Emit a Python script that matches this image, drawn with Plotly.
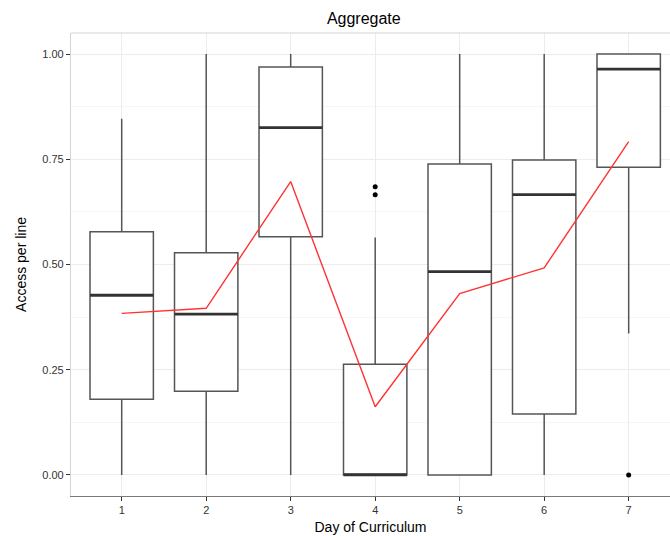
import plotly.graph_objects as go

# Day of curriculum and per-day summary statistics of access per line
days = [1, 2, 3, 4, 5, 6, 7]
lower_whisker = [0.0, 0.0, 0.0, 0.0, 0.0, 0.0, 0.336]
q1 = [0.180, 0.199, 0.566, 0.0, 0.0, 0.145, 0.731]
median = [0.427, 0.382, 0.825, 0.0, 0.483, 0.666, 0.964]
q3 = [0.578, 0.528, 0.969, 0.263, 0.739, 0.748, 1.0]
upper_whisker = [0.846, 1.0, 1.0, 0.564, 1.0, 1.0, 1.0]
means = [0.384, 0.396, 0.697, 0.162, 0.431, 0.492, 0.792]

outlier_days = [4, 4, 7]
outlier_values = [0.685, 0.666, 0.0]

y_ticks = [0.0, 0.25, 0.5, 0.75, 1.0]
y_tick_labels = ["0.00", "0.25", "0.50", "0.75", "1.00"]

box_width = 0.75
box_line = "#555555"

fig = go.Figure()

fig.add_trace(go.Box(
    x=days, q1=q1, median=median, q3=q3,
    lowerfence=lower_whisker, upperfence=upper_whisker,
    width=box_width, boxpoints=False,
    fillcolor="white", line=dict(color=box_line, width=1.5),
    whiskerwidth=0, showlegend=False, hoverinfo="skip",
))

# thicker median bars drawn over the boxes
mx, my = [], []
for d, m in zip(days, median):
    mx += [d - box_width / 2, d + box_width / 2, None]
    my += [m, m, None]
fig.add_trace(go.Scatter(x=mx, y=my, mode="lines",
                         line=dict(color="#333333", width=2.8),
                         showlegend=False, hoverinfo="skip"))

fig.add_trace(go.Scatter(x=outlier_days, y=outlier_values, mode="markers",
                         marker=dict(color="black", size=5),
                         showlegend=False, hoverinfo="skip"))

fig.add_trace(go.Scatter(x=days, y=means, mode="lines",
                         line=dict(color="#ff3333", width=1.4),
                         showlegend=False, hoverinfo="skip"))

fig.update_layout(
    width=670, height=536,
    margin=dict(l=71, r=0, t=33, b=40),
    paper_bgcolor="white", plot_bgcolor="white",
    font=dict(family="Liberation Sans, Arial, sans-serif", color="#000000"),
    title=dict(text="Aggregate", x=0.543, xanchor="center", y=0.966,
               yanchor="middle", font=dict(size=16, color="black")),
    xaxis=dict(
        range=[0.4, 7.489], tickvals=days, ticktext=[str(d) for d in days],
        showgrid=True, gridcolor="#ececec", gridwidth=1,
        ticks="outside", ticklen=4, tickcolor="#333333",
        tickfont=dict(size=11, color="#333333"),
        showline=True, linecolor="#7a7a7a", linewidth=1.2,
        zeroline=False,
        title=dict(text="Day of Curriculum", font=dict(size=14, color="black"),
                   standoff=6),
    ),
    yaxis=dict(
        range=[-0.05, 1.05], tickvals=y_ticks, ticktext=y_tick_labels,
        showgrid=True, gridcolor="#ececec", gridwidth=1,
        minor=dict(dtick=0.125, tick0=0.125, showgrid=True, gridcolor="#f6f6f6"),
        ticks="outside", ticklen=4, tickcolor="#333333",
        tickfont=dict(size=11, color="#333333"),
        showline=True, linecolor="#d4d4d4", linewidth=1.2,
        zeroline=False,
        title=dict(text="Access per line", font=dict(size=14, color="black"),
                   standoff=12),
    ),
    shapes=[dict(type="line", xref="paper", yref="paper", x0=0, x1=1, y0=1, y1=1,
                 line=dict(color="#d4d4d4", width=1.2))],
)

fig.write_html("out.html")
